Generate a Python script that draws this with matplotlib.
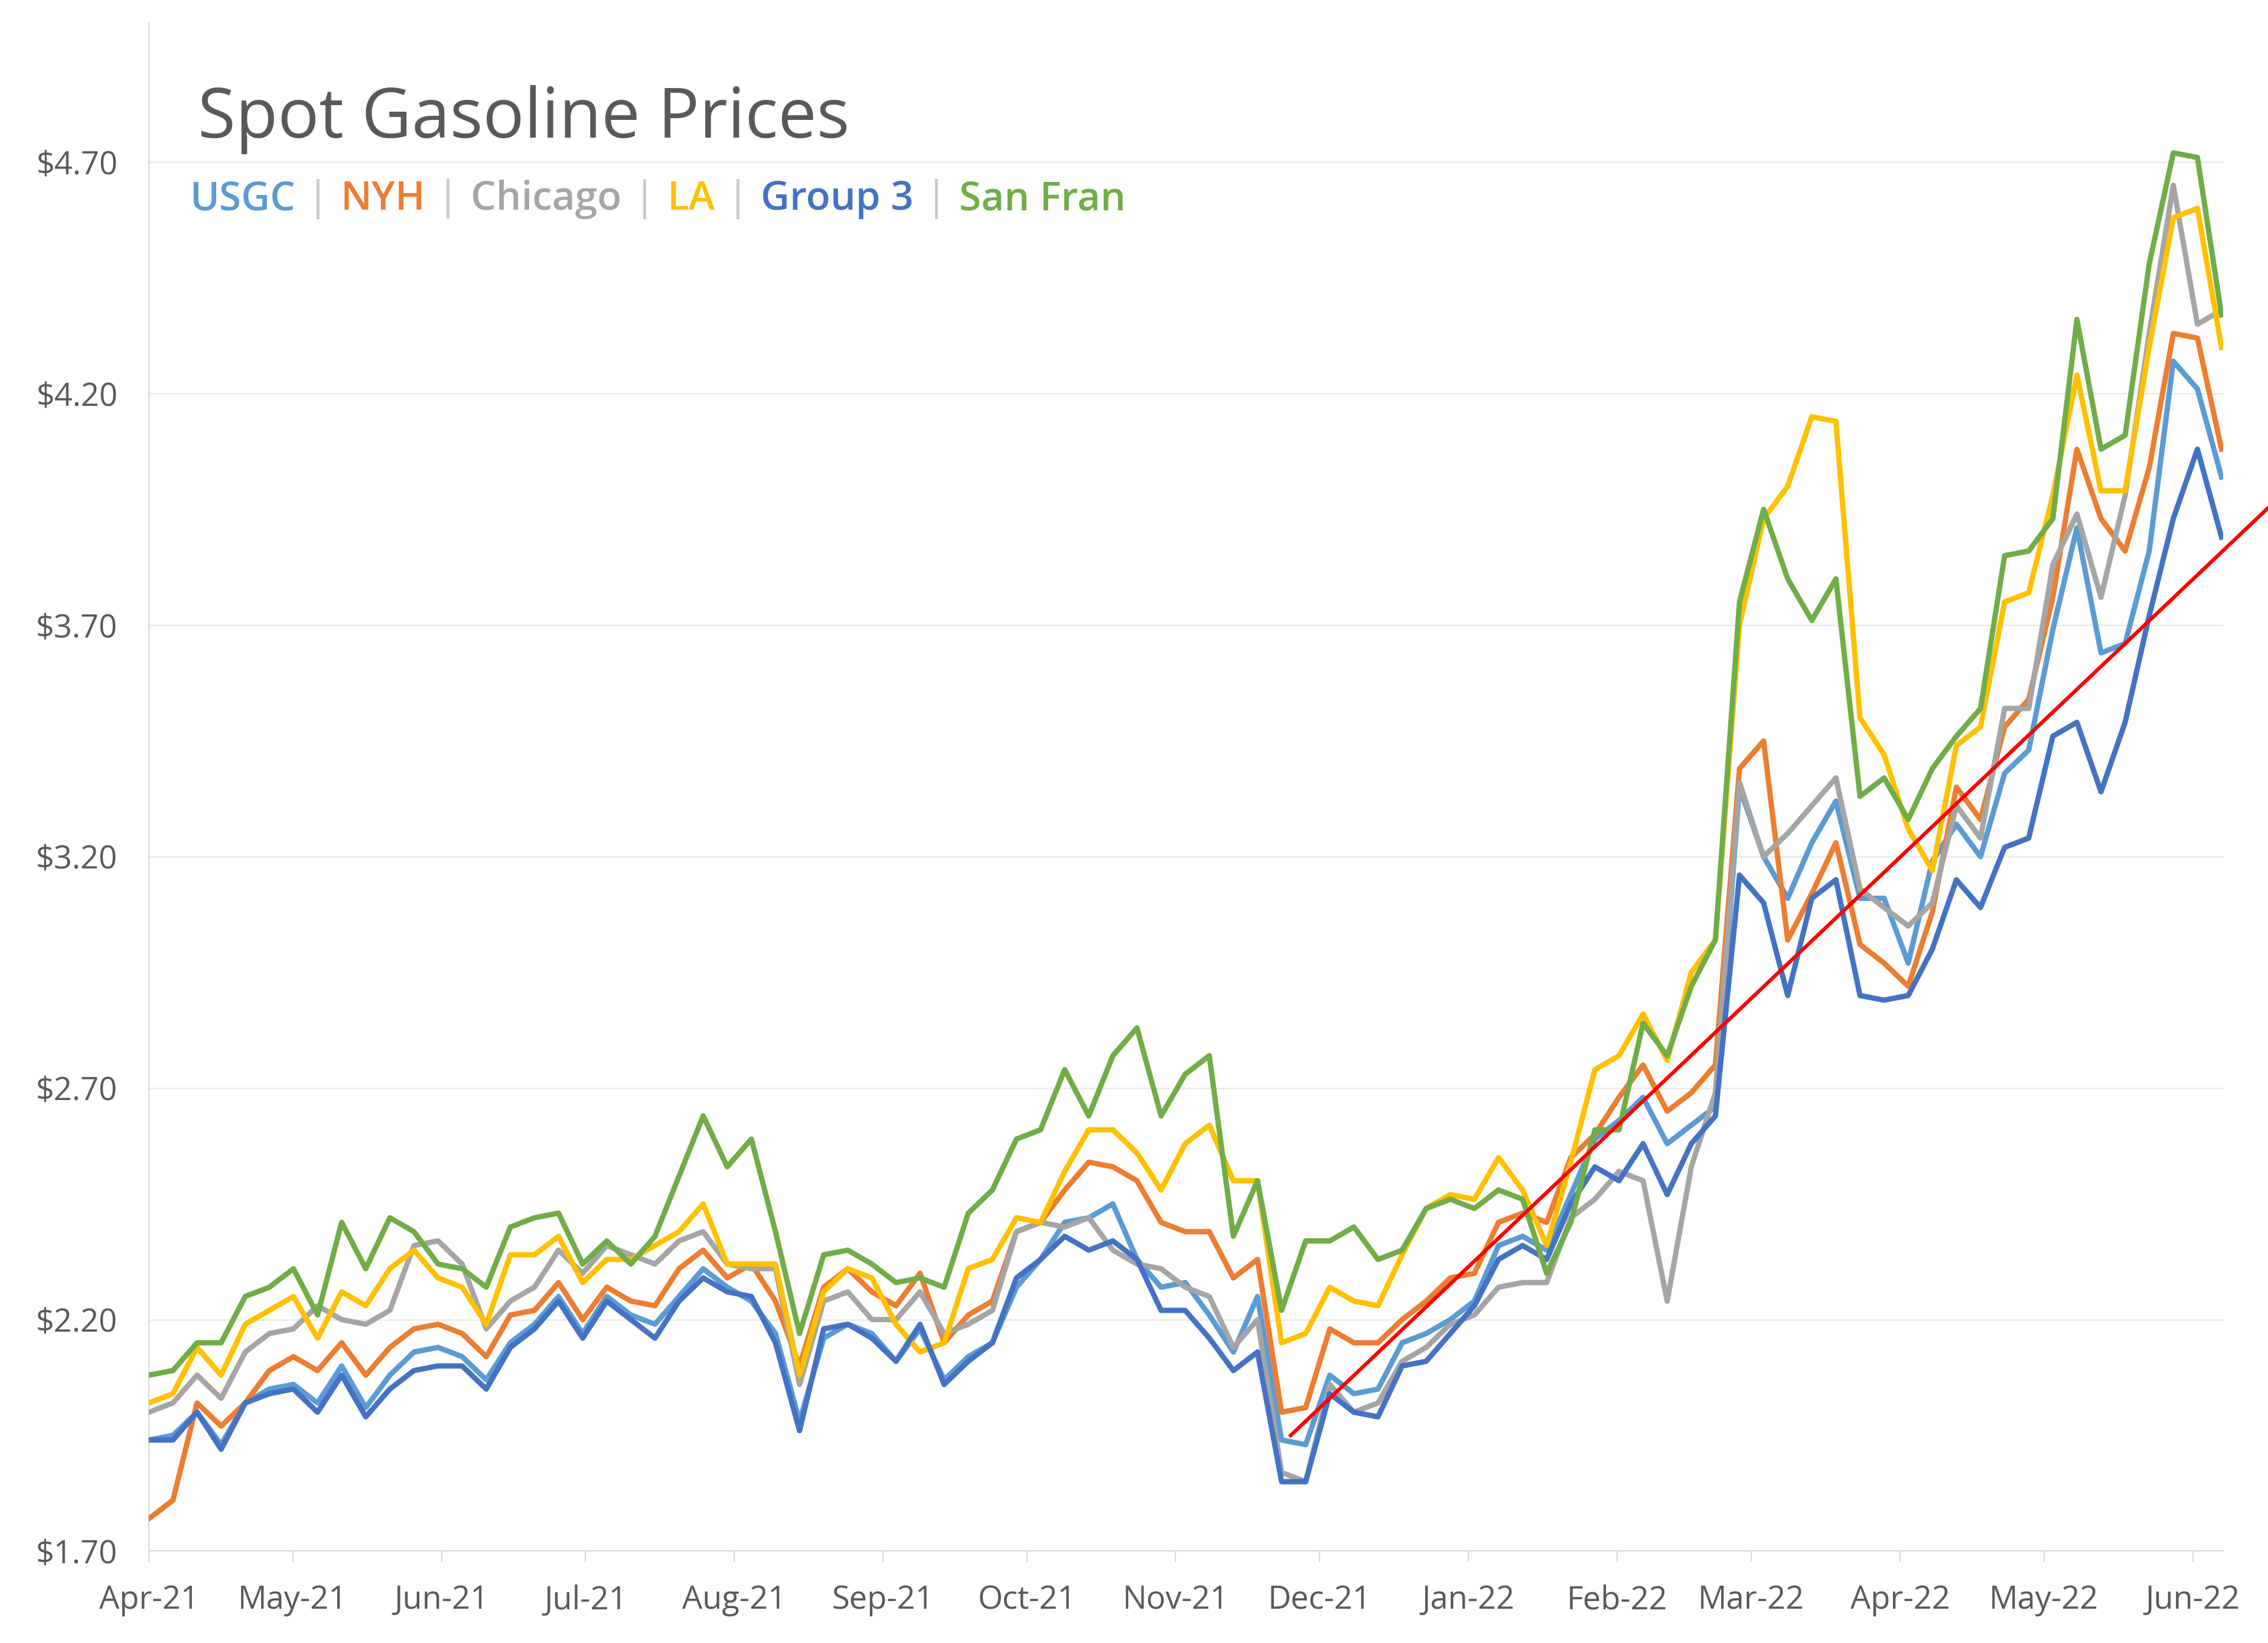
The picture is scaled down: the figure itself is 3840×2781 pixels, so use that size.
import matplotlib.pyplot as plt
import matplotlib.dates as mdates
import matplotlib.ticker as mticker
import pandas as pd

plt.rcParams['font.family'] = ['Open Sans', 'DejaVu Sans']

# sample dates: evenly spaced from first to last price on the chart
start_date = '2021-04-01'
end_date = '2022-06-07'

usgc = [1.94, 1.95, 2.00, 1.93, 2.02, 2.05, 2.06, 2.02, 2.10, 2.01,
        2.08, 2.13, 2.14, 2.12, 2.07, 2.15, 2.19, 2.25, 2.17, 2.25,
        2.21, 2.19, 2.25, 2.31, 2.27, 2.24, 2.17, 1.98, 2.16, 2.19,
        2.17, 2.11, 2.18, 2.07, 2.12, 2.15, 2.27, 2.33, 2.41, 2.42,
        2.45, 2.33, 2.27, 2.28, 2.21, 2.13, 2.25, 1.94, 1.93, 2.08,
        2.04, 2.05, 2.15, 2.17, 2.20, 2.24, 2.36, 2.38, 2.35, 2.47,
        2.59, 2.63, 2.68, 2.58, 2.62, 2.66, 3.35, 3.20, 3.11, 3.23,
        3.32, 3.11, 3.11, 2.97, 3.19, 3.27, 3.20, 3.38, 3.43, 3.69,
        3.91, 3.64, 3.66, 3.86, 4.27, 4.21, 4.02]
nyh = [1.77, 1.81, 2.02, 1.97, 2.02, 2.09, 2.12, 2.09, 2.15, 2.08,
       2.14, 2.18, 2.19, 2.17, 2.12, 2.21, 2.22, 2.28, 2.20, 2.27,
       2.24, 2.23, 2.31, 2.35, 2.29, 2.32, 2.24, 2.10, 2.27, 2.31,
       2.26, 2.23, 2.30, 2.15, 2.21, 2.24, 2.39, 2.41, 2.48, 2.54,
       2.53, 2.50, 2.41, 2.39, 2.39, 2.29, 2.33, 2.00, 2.01, 2.18,
       2.15, 2.15, 2.20, 2.24, 2.29, 2.30, 2.41, 2.43, 2.41, 2.55,
       2.60, 2.68, 2.75, 2.65, 2.69, 2.75, 3.39, 3.45, 3.02, 3.12,
       3.23, 3.01, 2.97, 2.92, 3.08, 3.35, 3.28, 3.48, 3.54, 3.76,
       4.08, 3.93, 3.86, 4.04, 4.33, 4.32, 4.08]
chicago = [2.00, 2.02, 2.08, 2.03, 2.13, 2.17, 2.18, 2.23, 2.20, 2.19,
           2.22, 2.36, 2.37, 2.32, 2.18, 2.24, 2.27, 2.35, 2.30, 2.36,
           2.34, 2.32, 2.37, 2.39, 2.32, 2.31, 2.31, 2.06, 2.24, 2.26,
           2.20, 2.20, 2.26, 2.17, 2.19, 2.22, 2.39, 2.41, 2.40, 2.42,
           2.35, 2.32, 2.31, 2.27, 2.25, 2.14, 2.20, 1.87, 1.85, 2.06,
           2.00, 2.02, 2.11, 2.14, 2.19, 2.21, 2.27, 2.28, 2.28, 2.42,
           2.46, 2.52, 2.50, 2.24, 2.53, 2.69, 3.36, 3.20, 3.25, 3.31,
           3.37, 3.13, 3.09, 3.05, 3.10, 3.31, 3.24, 3.52, 3.52, 3.83,
           3.94, 3.76, 3.98, 4.33, 4.65, 4.35, 4.38]
la = [2.02, 2.04, 2.14, 2.08, 2.19, 2.22, 2.25, 2.16, 2.26, 2.23,
      2.31, 2.35, 2.29, 2.27, 2.19, 2.34, 2.34, 2.38, 2.28, 2.33,
      2.33, 2.36, 2.39, 2.45, 2.32, 2.32, 2.32, 2.08, 2.26, 2.31,
      2.29, 2.19, 2.13, 2.15, 2.31, 2.33, 2.42, 2.41, 2.52, 2.61,
      2.61, 2.56, 2.48, 2.58, 2.62, 2.50, 2.50, 2.15, 2.17, 2.27,
      2.24, 2.23, 2.34, 2.44, 2.47, 2.46, 2.55, 2.48, 2.36, 2.54,
      2.74, 2.77, 2.86, 2.76, 2.95, 3.02, 3.70, 3.93, 4.00, 4.15,
      4.14, 3.50, 3.42, 3.26, 3.17, 3.44, 3.48, 3.75, 3.77, 3.98,
      4.24, 3.99, 3.99, 4.30, 4.58, 4.60, 4.30]
group3 = [1.94, 1.94, 2.00, 1.92, 2.02, 2.04, 2.05, 2.00, 2.08, 1.99,
          2.05, 2.09, 2.10, 2.10, 2.05, 2.14, 2.18, 2.24, 2.16, 2.24,
          2.20, 2.16, 2.24, 2.29, 2.26, 2.25, 2.15, 1.96, 2.18, 2.19,
          2.16, 2.11, 2.19, 2.06, 2.11, 2.15, 2.29, 2.33, 2.38, 2.35,
          2.37, 2.33, 2.22, 2.22, 2.16, 2.09, 2.13, 1.85, 1.85, 2.04,
          2.00, 1.99, 2.10, 2.11, 2.17, 2.23, 2.33, 2.36, 2.33, 2.45,
          2.53, 2.50, 2.58, 2.47, 2.58, 2.64, 3.16, 3.10, 2.90, 3.11,
          3.15, 2.90, 2.89, 2.90, 3.00, 3.15, 3.09, 3.22, 3.24, 3.46,
          3.49, 3.34, 3.49, 3.72, 3.93, 4.08, 3.89]
san_fran = [2.08, 2.09, 2.15, 2.15, 2.25, 2.27, 2.31, 2.21, 2.41, 2.31,
            2.42, 2.39, 2.32, 2.31, 2.27, 2.40, 2.42, 2.43, 2.32, 2.37,
            2.32, 2.38, 2.51, 2.64, 2.53, 2.59, 2.39, 2.17, 2.34, 2.35,
            2.32, 2.28, 2.29, 2.27, 2.43, 2.48, 2.59, 2.61, 2.74, 2.64,
            2.77, 2.83, 2.64, 2.73, 2.77, 2.38, 2.50, 2.22, 2.37, 2.37,
            2.40, 2.33, 2.35, 2.44, 2.46, 2.44, 2.48, 2.46, 2.30, 2.41,
            2.61, 2.61, 2.84, 2.77, 2.92, 3.02, 3.75, 3.95, 3.80, 3.71,
            3.80, 3.33, 3.37, 3.28, 3.39, 3.46, 3.52, 3.85, 3.86, 3.93,
            4.36, 4.08, 4.11, 4.48, 4.72, 4.71, 4.37]

series_names = ['USGC', 'NYH', 'Chicago', 'LA', 'Group 3', 'San Fran']
series_colors = ['#5B9BD5', '#ED7D31', '#A5A5A5', '#FFC000', '#4472C4', '#70AD47']

# hand-drawn red trend line (start / end)
trend_dates = ['2021-11-25', '2022-06-17']
trend_values = [1.95, 3.956]

y_ticks = [1.70, 2.20, 2.70, 3.20, 3.70, 4.20, 4.70]

dates = pd.date_range(start_date, end_date, periods=len(usgc))
all_series = [usgc, nyh, chicago, la, group3, san_fran]

fig = plt.figure(figsize=(38.4, 27.81), dpi=100)
ax = fig.add_axes([0.06563, 0.05592, 0.91458, 0.92996])

for vals, col in zip(all_series, series_colors):
    ax.plot(dates, vals, color=col, lw=6.5, solid_joinstyle='round', zorder=3)

ax.plot(pd.to_datetime(trend_dates), trend_values, color='#FF0000', lw=4.5,
        clip_on=False, zorder=5)

ax.set_xlim(pd.Timestamp(start_date), pd.Timestamp(end_date) + pd.Timedelta(hours=8))
ax.set_ylim(1.70, 5.0)
ax.set_yticks(y_ticks)
ax.yaxis.set_major_formatter(mticker.FuncFormatter(lambda v, p: '$%.2f' % v))
ax.xaxis.set_major_locator(mdates.MonthLocator())
ax.xaxis.set_major_formatter(mdates.DateFormatter('%b-%y'))

ax.grid(axis='y', color='#EDEDED', lw=2, zorder=0)
for s in ['top', 'right']:
    ax.spines[s].set_visible(False)
for s in ['left', 'bottom']:
    ax.spines[s].set_color('#D9D9D9')
    ax.spines[s].set_linewidth(1.5)

ax.tick_params(axis='x', length=14, width=1.5, color='#D9D9D9', pad=26,
               labelsize=39, labelcolor='#595959')
ax.tick_params(axis='y', length=0, pad=38, labelsize=39, labelcolor='#595959')

# title and coloured legend line
fig.text(335 / 3840, 1 - 233 / 2781, 'Spot Gasoline Prices', fontsize=84,
         color='#595959', va='baseline')

fig.canvas.draw()
r = fig.canvas.get_renderer()
x = 321.0
ly = 1 - 355 / 2781
gap = 20.0
for i, (name, col) in enumerate(zip(series_names, series_colors)):
    if i:
        t = fig.text((x + gap) / 3840, ly, '|', fontsize=48.5, color='#C8C8C8', va='baseline')
        x = t.get_window_extent(r).x1 + gap
    t = fig.text(x / 3840, ly, name, fontsize=48.5, color=col, fontweight='semibold',
                 va='baseline')
    x = t.get_window_extent(r).x1

fig.savefig('out.png', dpi=100)
